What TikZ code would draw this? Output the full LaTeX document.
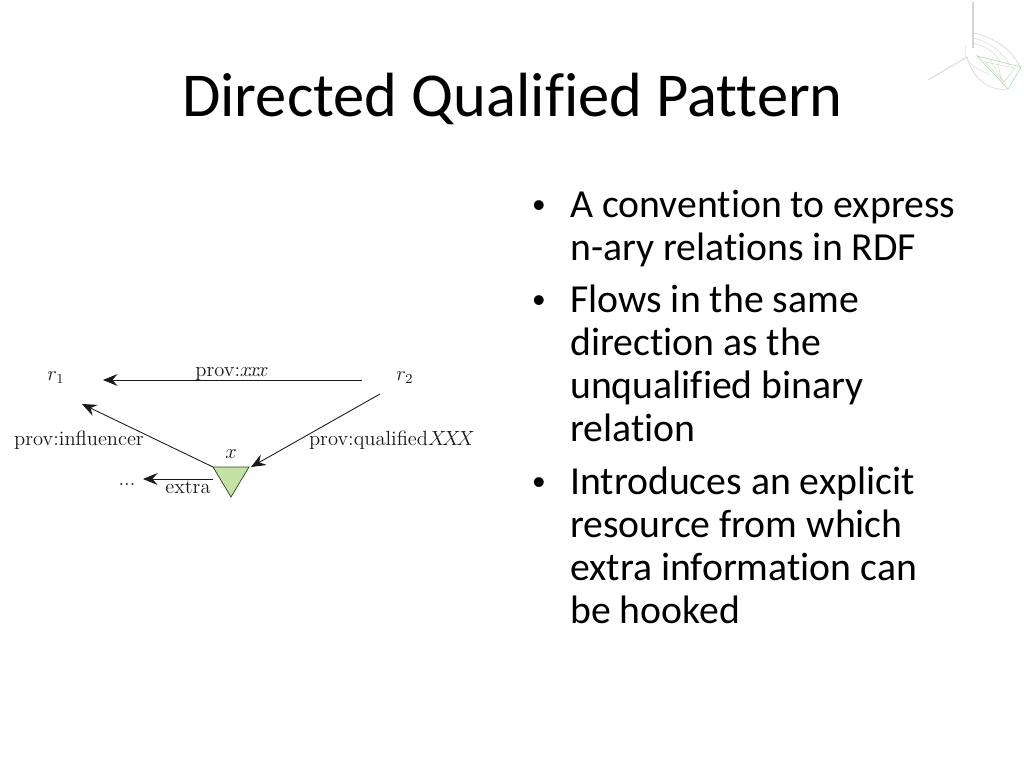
\documentclass[tikz,border=0pt]{standalone}
\usepackage{fontspec}
\setmainfont{Latin Modern Roman}
\newfontfamily\calibri[Ligatures={NoCommon,NoContextual},Contextuals=NoAlternate]{Carlito}
\newfontfamily\bulletfont{Liberation Sans}
\usetikzlibrary{arrows.meta}
\definecolor{triGreen}{HTML}{C3E3A4}
\definecolor{triEdge}{HTML}{2F4A22}
\tikzset{
  px/.style={x=0.75pt,y=-0.75pt},
  titletext/.style={font=\calibri\fontsize{46.85}{50}\selectfont,anchor=base,inner sep=0pt,text=black},
  bodytext/.style={font=\calibri\fontsize{29.8}{34}\selectfont,anchor=base west,inner sep=0pt,text=black},
  bullettext/.style={font=\bulletfont\fontsize{27}{30}\selectfont,anchor=base,inner sep=0pt,text=black},
  lab/.style={font=\fontsize{12}{14}\selectfont,anchor=base,inner sep=0pt,text=black!90,scale=1.283,transform shape},
  conn/.style={draw=black!90,line width=0.65pt,-{Stealth[length=11pt,width=9pt,inset=4pt]}},
  tri/.style={draw=triEdge,fill=triGreen,line width=0.55pt,line join=miter},
  logo/.style={line width=0.5pt,opacity=0.75}
}
\begin{document}
\begin{tikzpicture}[px]
\useasboundingbox (0,0) rectangle (1024,768);
\fill[white] (0,0) rectangle (1024,768);
% title
\node[titletext] (title) at (512.5,116.5) {Directed Qualified Pattern};
% bullets
\node[bullettext] (b1) at (539,217) {•};
\node[bodytext] (l1) at (570,217) {A convention to express};
\node[bodytext] (l2) at (570,260) {n-ary relations in RDF};
\node[bullettext] (b2) at (539,312) {•};
\node[bodytext] (l3) at (570,312) {Flows in the same};
\node[bodytext] (l4) at (570,355) {direction as the};
\node[bodytext] (l5) at (570,398) {unqualified binary};
\node[bodytext] (l6) at (570,441) {relation};
\node[bullettext] (b3) at (539,494) {•};
\node[bodytext] (l7) at (570,494) {Introduces an explicit};
\node[bodytext] (l8) at (570,537) {resource from which};
\node[bodytext] (l9) at (570,580) {extra information can};
\node[bodytext] (l10) at (570,623) {be hooked};
% diagram
\node[lab] (r1) at (56,380.5) {$r_1$};
\node[lab] (r2) at (405,380.5) {$r_2$};
\node[lab] (x) at (231,458) {$x$};
\node[lab] (dots) at (127,485) {...};
\node[lab] (pxxx) at (232,376) {prov:$x\mkern-2.5mu x\mkern-2.5mu x$};
\node[lab] (pinf) at (79,445) {prov:influencer};
\node[lab] (pq) at (392,445) {prov:qualified$X\mkern-3.5mu X\mkern-3.5mu X$};
\node[lab] (pex) at (188,493) {extra};
\coordinate (a1s) at (362,380);
\coordinate (a1e) at (103,380);
\coordinate (a2s) at (213,467);
\coordinate (a2e) at (82,404);
\coordinate (a3s) at (380,394);
\coordinate (a3e) at (251,467);
\coordinate (a4s) at (213,479);
\coordinate (a4e) at (143,479);
\draw[tri] (213,467) coordinate (t1) -- (249,467) coordinate (t2) -- (231,497) coordinate (t3) -- cycle;
\draw[conn] (a1s) -- (a1e);
\draw[conn] (a2s) -- (a2e);
\draw[conn] (a3s) -- (a3e);
\draw[conn] (a4s) -- (a4e);
% logo
\draw[logo,draw=black!22,line width=0.8pt] (973,2) -- (973,48);
\draw[logo,draw=black!18,line width=0.8pt] (928,80) -- (967,57);
\draw[logo,draw=orange!30!black!25] (973,33) .. controls (990,36) and (1012,48) .. (1020,67);
\draw[logo,draw=orange!30!black!20] (973,38) .. controls (990,42) and (1003,52) .. (1010,66);
\draw[logo,draw=black!15] (973,43) .. controls (985,46) and (995,52) .. (1000,62);
\draw[logo,draw=blue!40!black!22] (967,57) .. controls (972,78) and (990,92) .. (1008,89);
\draw[logo,draw=black!15] (966,45) .. controls (962,55) and (968,68) .. (990,74);
\draw[logo,draw=black!45!green!40] (977,56) -- (1021,67) -- (1008,89) -- cycle;
\draw[logo,draw=cyan!35!black!25] (985,62) -- (1015,68) -- (1004,82) -- cycle;
\draw[logo,draw=yellow!50!black!30] (990,60) -- (1005,84);
\draw[logo,draw=green!30!black!20] (998,63) -- (1002,84);
\end{tikzpicture}
\end{document}
